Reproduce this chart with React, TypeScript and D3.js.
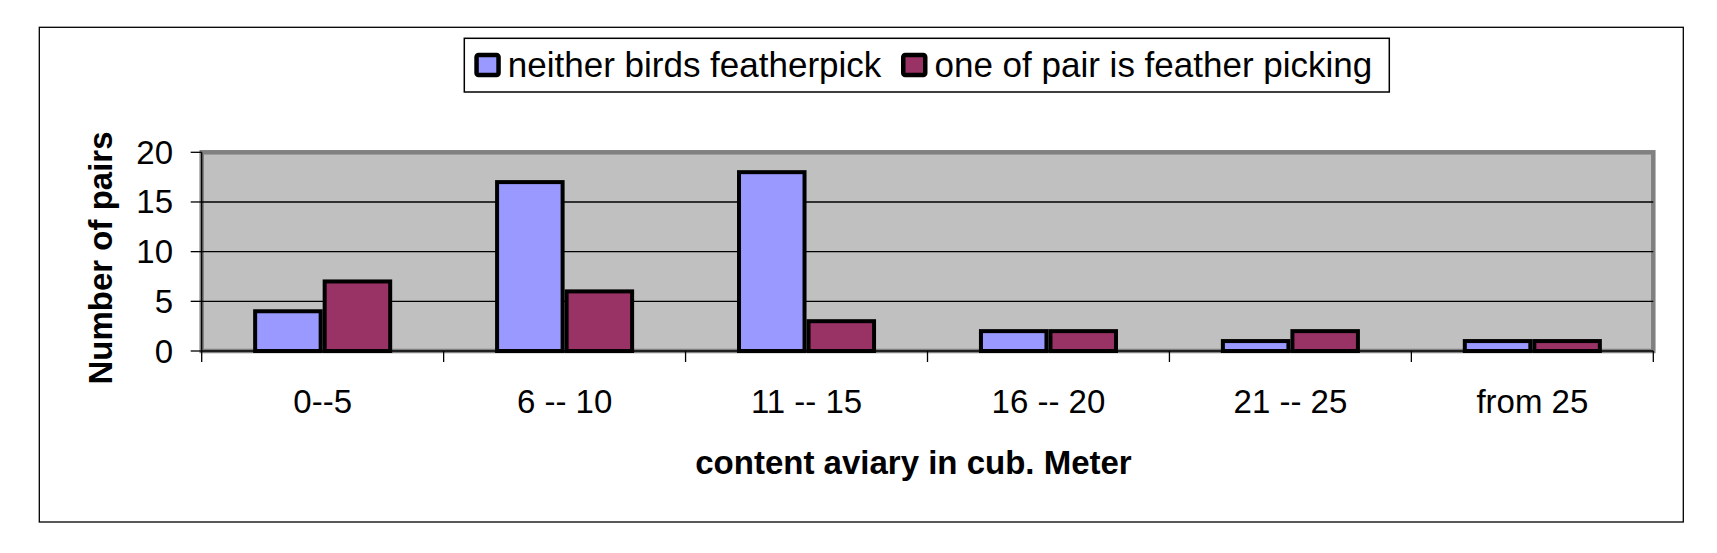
import * as d3 from "d3";

const categories = ["0--5", "6 -- 10", "11 -- 15", "16 -- 20", "21 -- 25", "from 25"];
const seriesNames = ["neither birds featherpick", "one of pair is feather picking"];
const neitherPick = [4, 17, 18, 2, 1, 1];
const onePicking = [7, 6, 3, 2, 2, 1];
const yTicks = [0, 5, 10, 15, 20];

const seriesValues = [neitherPick, onePicking];
const colors = ["#9999FF", "#993366"];

const width = 1717;
const height = 553;
const plot = { left: 201.7, right: 1653.3, top: 152.3, bottom: 351 };
const font = "'Liberation Sans', Arial, sans-serif";
const barStroke = 4;

export default function App() {
  const x0 = d3.scaleBand<string>().domain(categories).range([plot.left, plot.right]).padding(0);
  const x1 = d3
    .scaleBand<string>()
    .domain(seriesNames)
    .range([0, x0.bandwidth()])
    .paddingInner(0)
    .paddingOuter(0.74);
  const y = d3.scaleLinear().domain([0, 20]).range([plot.bottom, plot.top]);

  const boundaries = categories.map((c) => x0(c)!).concat([plot.right]);

  return (
    <svg
      width={width}
      height={height}
      style={{ position: "absolute", left: 0, top: 0, background: "#fff" }}
      fontFamily={font}
    >
      {/* chart area border */}
      <rect x={39.3} y={27.3} width={1683.3 - 39.3} height={522 - 27.3} fill="#fff" stroke="#000" strokeWidth={1.3} />

      {/* plot area */}
      <rect
        x={plot.left}
        y={plot.top}
        width={plot.right - plot.left}
        height={plot.bottom - plot.top}
        fill="#C0C0C0"
        stroke="#808080"
        strokeWidth={4.5}
      />
      {yTicks
        .filter((t) => t > 0 && t < 20)
        .map((t) => (
          <line key={t} x1={plot.left} x2={plot.right} y1={y(t)} y2={y(t)} stroke="#000" strokeWidth={1.3} />
        ))}

      {/* bars */}
      {categories.map((cat, ci) => (
        <g key={cat}>
          {seriesNames.map((s, si) => {
            const v = seriesValues[si][ci];
            const bx = x0(cat)! + x1(s)!;
            return (
              <rect
                key={s}
                x={bx + barStroke / 2}
                y={y(v)}
                width={x1.bandwidth() - barStroke}
                height={y(0) - y(v)}
                fill={colors[si]}
                stroke="#000"
                strokeWidth={barStroke}
              />
            );
          })}
        </g>
      ))}

      {/* value axis */}
      <line x1={plot.left} x2={plot.left} y1={plot.top} y2={plot.bottom} stroke="#000" strokeWidth={1.3} />
      {yTicks.map((t) => (
        <g key={t}>
          <line x1={plot.left - 11} x2={plot.left} y1={y(t)} y2={y(t)} stroke="#000" strokeWidth={1.3} />
          <text x={173} y={y(t) + 11.5} textAnchor="end" fontSize={33} fill="#000">
            {t}
          </text>
        </g>
      ))}

      {/* category axis */}
      <line x1={plot.left} x2={plot.right} y1={plot.bottom} y2={plot.bottom} stroke="#000" strokeWidth={1.3} />
      {boundaries.map((bx, i) => (
        <line key={i} x1={bx} x2={bx} y1={plot.bottom} y2={plot.bottom + 11} stroke="#000" strokeWidth={1.3} />
      ))}
      {categories.map((cat) => (
        <text
          key={cat}
          x={x0(cat)! + x0.bandwidth() / 2}
          y={412.5}
          textAnchor="middle"
          fontSize={33}
          fill="#000"
        >
          {cat}
        </text>
      ))}

      {/* axis titles */}
      <text x={913.5} y={474} textAnchor="middle" fontSize={33} fontWeight="bold" fill="#000">
        content aviary in cub. Meter
      </text>
      <text
        transform={`translate(111.5,258) rotate(-90)`}
        textAnchor="middle"
        fontSize={33}
        fontWeight="bold"
        fill="#000"
      >
        Number of pairs
      </text>

      {/* legend */}
      <rect x={464.3} y={38.3} width={1389.3 - 464.3} height={92 - 38.3} fill="#fff" stroke="#000" strokeWidth={1.5} />
      {seriesNames.map((s, i) => {
        const sx = i === 0 ? 474.3 : 901;
        return (
          <g key={s}>
            <rect x={sx + 2.25} y={55} width={22} height={20} rx={2} fill={colors[i]} stroke="#000" strokeWidth={4.5} />
            <text x={sx + 33.5} y={76.7} fontSize={35} fill="#000">
              {s}
            </text>
          </g>
        );
      })}
    </svg>
  );
}
